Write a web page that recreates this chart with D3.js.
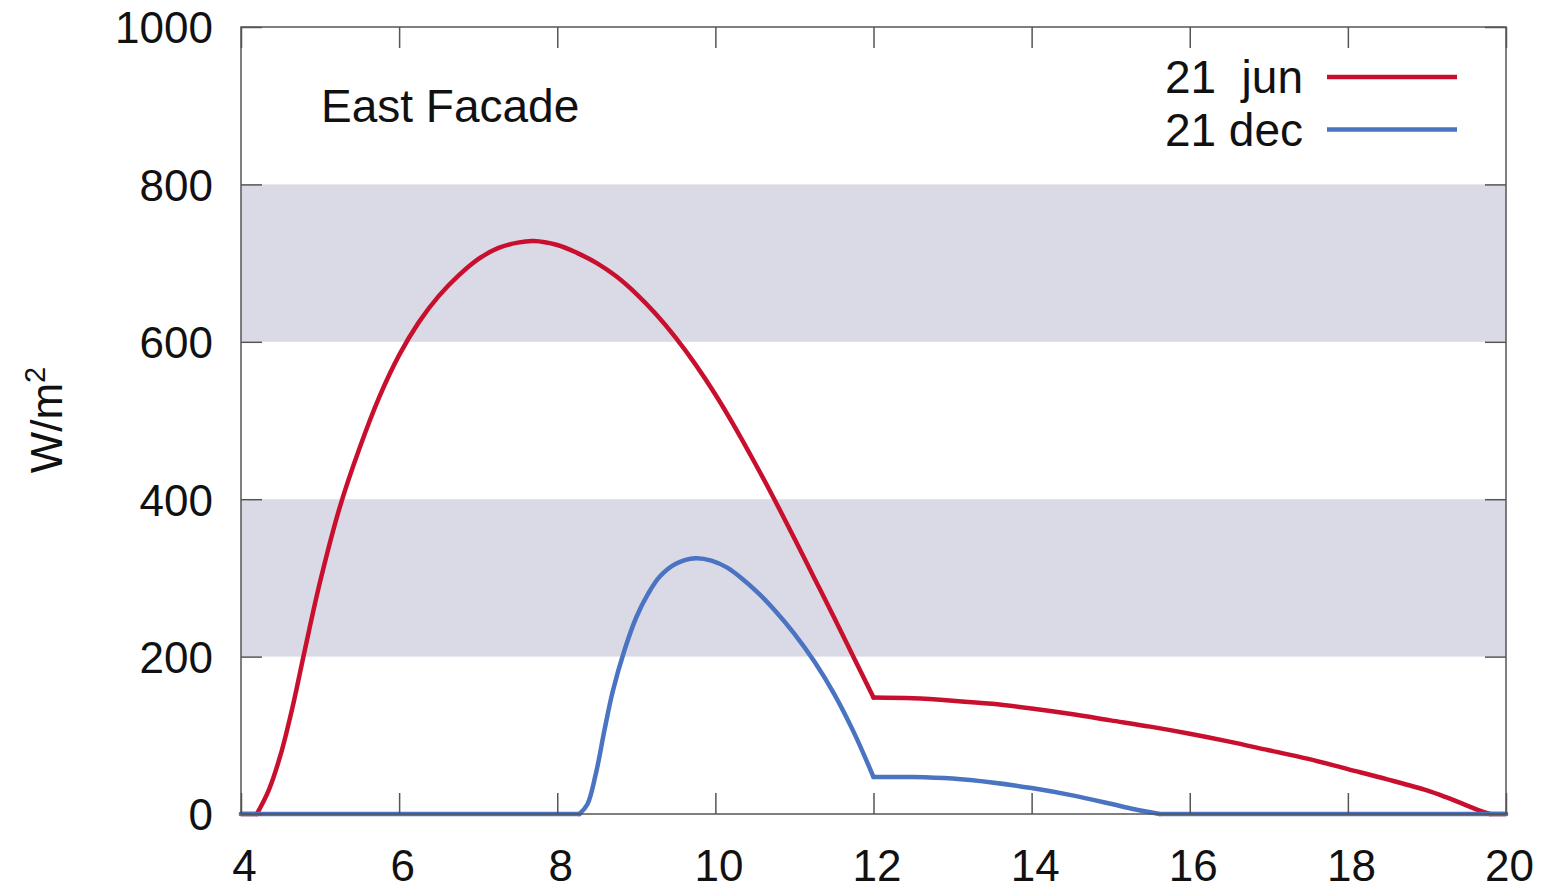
<!DOCTYPE html>
<html>
<head>
<meta charset="utf-8">
<script src="https://cdn.jsdelivr.net/npm/d3@7"></script>
<style>
  html, body { margin: 0; padding: 0; background: #ffffff; }
  svg { display: block; font-family: "Liberation Sans", Arial, Helvetica, sans-serif; }
  .lbl { white-space: pre; }
</style>
</head>
<body>
<svg id="chart" width="1544" height="892"></svg>
<script>
// Solar irradiance on the east facade, hour of day vs W/m2
const junHours  = [4, 4.2, 4.35, 4.5, 4.65, 4.8, 5.0, 5.25, 5.5, 5.75, 6.0, 6.25, 6.5, 6.75, 7.0, 7.25, 7.5, 7.7, 8.0, 8.25, 8.5, 8.75, 9.0, 9.25, 9.5, 9.75, 10.0, 10.25, 10.5, 10.75, 11.0, 11.25, 11.5, 11.75, 12,
                   12.5, 13.0, 13.5, 14.0, 14.5, 15.0, 15.5, 16.0, 16.5, 17.0, 17.5, 18.0, 18.5, 19.0, 19.25, 19.5, 19.65, 19.8, 20];
const junValues = [0, 0, 30, 75, 135, 205, 295, 390, 465, 530, 583, 625, 658, 684, 705, 719, 726, 728, 723, 713, 700, 683, 661, 635, 605, 571, 533, 491, 446, 399, 350, 300, 250, 199, 148,
                   147, 144, 140, 134, 127, 119, 111, 102, 92, 81, 70, 57, 44, 30, 21, 11, 5, 0, 0];

const decHours  = [4, 8.28, 8.38, 8.49, 8.6, 8.7, 8.85, 9.0, 9.15, 9.3, 9.5, 9.75, 9.95, 10.15, 10.35, 10.55, 10.75, 11.0, 11.25, 11.5, 11.75, 12,
                   12.5, 13.0, 13.5, 14.0, 14.5, 15.0, 15.3, 15.62, 20];
const decValues = [0, 0, 12, 52, 108, 155, 208, 250, 280, 302, 318, 325, 322, 313, 298, 280, 259, 229, 194, 153, 104, 47,
                   47, 45, 40, 33, 24, 13, 6, 0, 0];

const seriesNames = ["21  jun", "21 dec"];
const seriesColors = ["#c8102e", "#4a73c2"];

const xTicks = [4, 6, 8, 10, 12, 14, 16, 18, 20];
const yTicks = [0, 200, 400, 600, 800, 1000];
const bands = [[200, 400], [600, 800]];

const panelTitle = "East Facade";

const W = 1544, H = 892;
const margin = { left: 241, right: 38, top: 27, bottom: 78 };
const svg = d3.select("#chart");

const x = d3.scaleLinear().domain([4, 20]).range([margin.left, W - margin.right]);
const y = d3.scaleLinear().domain([0, 1000]).range([H - margin.bottom, margin.top]);

const axisColor = "#555";
const tickLen = 21;

// shaded bands
svg.append("g").selectAll("rect").data(bands).join("rect")
  .attr("x", x(4))
  .attr("width", x(20) - x(4))
  .attr("y", d => y(d[1]))
  .attr("height", d => y(d[0]) - y(d[1]))
  .attr("fill", "#d9dae6");

const series = [
  { hours: junHours, values: junValues },
  { hours: decHours, values: decValues }
].map((s, i) => ({
  name: seriesNames[i],
  color: seriesColors[i],
  points: s.hours.map((h, j) => ({ h, v: s.values[j] }))
}));

// Split a series into flat zero stretches (straight) and curved stretches,
// breaking the curved ones at noon so the corner there stays sharp.
function splitPieces(points) {
  const flat = [], curved = [];
  let run = null;
  for (let i = 0; i < points.length - 1; i++) {
    const a = points[i], b = points[i + 1];
    if (a.v === 0 && b.v === 0) {
      if (run) { curved.push(run); run = null; }
      flat.push([a, b]);
    } else {
      if (!run) run = [a];
      run.push(b);
      if (b.h === 12) { curved.push(run); run = [b]; }
    }
  }
  if (run && run.length > 1) curved.push(run);
  return { flat, curved: curved.filter(r => r.length > 1) };
}

const smooth = d3.line().x(d => x(d.h)).y(d => y(d.v)).curve(d3.curveCatmullRom.alpha(0.5));
const straight = d3.line().x(d => x(d.h)).y(d => y(d.v));

const lineG = svg.append("g");
series.forEach(s => {
  const { flat, curved } = splitPieces(s.points);
  flat.forEach(seg => lineG.append("path").attr("d", straight(seg)));
  curved.forEach(run => lineG.append("path").attr("d", smooth(run)));
  lineG.selectAll("path:not(.done)")
    .classed("done", true)
    .attr("fill", "none")
    .attr("stroke", s.color)
    .attr("stroke-width", 4.5)
    .attr("stroke-linejoin", "round")
    .attr("stroke-linecap", "round");
});

// axes with inward ticks on all four sides
function styleAxis(g) {
  g.select(".domain").remove();
  g.selectAll(".tick line").attr("stroke", axisColor).attr("stroke-width", 1.5);
  g.selectAll(".tick text").attr("fill", "#111").style("font-size", "44px")
    .style("font-family", "'Liberation Sans', Arial, sans-serif");
}

const xAxisG = svg.append("g")
  .attr("transform", `translate(0,${y(0)})`)
  .call(d3.axisBottom(x).tickValues(xTicks).tickSizeInner(-tickLen).tickSizeOuter(0).tickPadding(36).tickFormat(d3.format("d")))
  .call(styleAxis);
xAxisG.selectAll(".tick text").attr("dx", 3);

svg.append("g")
  .attr("transform", `translate(0,${y(1000)})`)
  .call(d3.axisTop(x).tickValues(xTicks).tickSizeInner(-tickLen).tickSizeOuter(0).tickFormat(""))
  .call(styleAxis);

const yAxisG = svg.append("g")
  .attr("transform", `translate(${x(4)},0)`)
  .call(d3.axisLeft(y).tickValues(yTicks).tickSizeInner(-tickLen).tickSizeOuter(0).tickPadding(28).tickFormat(d3.format("d")))
  .call(styleAxis);
yAxisG.selectAll(".tick text").attr("dy", "0.36em");

svg.append("g")
  .attr("transform", `translate(${x(20)},0)`)
  .call(d3.axisRight(y).tickValues(yTicks).tickSizeInner(-tickLen).tickSizeOuter(0).tickFormat(""))
  .call(styleAxis);

// frame
svg.append("rect")
  .attr("x", x(4)).attr("y", y(1000))
  .attr("width", x(20) - x(4)).attr("height", y(0) - y(1000))
  .attr("fill", "none").attr("stroke", axisColor).attr("stroke-width", 1.5);

// y-axis title
const yt = svg.append("text")
  .attr("transform", "translate(62,420) rotate(-90)")
  .attr("text-anchor", "middle")
  .attr("fill", "#111")
  .style("font-size", "44px");
yt.append("tspan").text("W/m");
yt.append("tspan").attr("dy", -17).style("font-size", "29px").text("2");

// panel title
svg.append("text")
  .attr("x", 321).attr("y", 122)
  .attr("fill", "#111")
  .style("font-size", "46px")
  .text(panelTitle);

// legend
const legend = svg.append("g");
series.forEach((s, i) => {
  const ly = 77 + i * 52.5;
  legend.append("text")
    .attr("class", "lbl")
    .attr("x", 1303).attr("y", ly + 16)
    .attr("text-anchor", "end")
    .attr("fill", "#111")
    .style("font-size", "46px")
    .text(s.name);
  legend.append("line")
    .attr("x1", 1327).attr("x2", 1457)
    .attr("y1", ly).attr("y2", ly)
    .attr("stroke", s.color).attr("stroke-width", 4.5);
});
</script>
</body>
</html>
